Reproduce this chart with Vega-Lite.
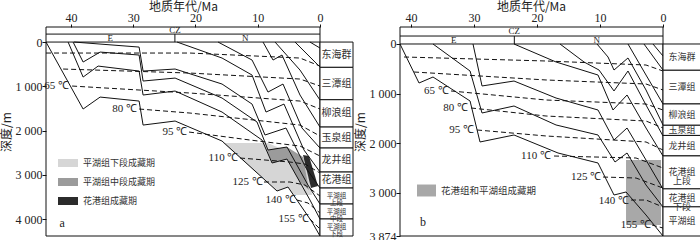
{
  "$schema": "https://vega.github.io/schema/vega-lite/v6.json",
  "background": "white",
  "padding": {"left": 0, "top": 0, "right": 0, "bottom": 0},
  "datasets": {
    "one": [{"k": 1}],
    "curvesA": [
      {"id":"A","o":1,"age":44.0,"depth":0},{"id":"A","o":2,"age":38.04,"depth":1512},{"id":"A","o":3,"age":35.31,"depth":1242},{"id":"A","o":4,"age":29.05,"depth":1332},{"id":"A","o":5,"age":28.41,"depth":1874},{"id":"A","o":6,"age":23.27,"depth":1783},{"id":"A","o":7,"age":15.73,"depth":2235},{"id":"A","o":8,"age":6.9,"depth":3363},{"id":"A","o":9,"age":5.14,"depth":3273},{"id":"A","o":10,"age":1.28,"depth":4063},{"id":"A","o":11,"age":0,"depth":4379},
      {"id":"B","o":1,"age":40.45,"depth":0},{"id":"B","o":2,"age":38.04,"depth":790},{"id":"B","o":3,"age":35.63,"depth":542},{"id":"B","o":4,"age":29.05,"depth":655},{"id":"B","o":5,"age":28.41,"depth":1196},{"id":"B","o":6,"age":23.27,"depth":1106},{"id":"B","o":7,"age":15.73,"depth":1580},{"id":"B","o":8,"age":9.31,"depth":2212},{"id":"B","o":9,"age":7.7,"depth":2731},{"id":"B","o":10,"age":5.3,"depth":2641},{"id":"B","o":11,"age":1.61,"depth":3567},{"id":"B","o":12,"age":0,"depth":3995},
      {"id":"C","o":1,"age":39.65,"depth":0},{"id":"C","o":2,"age":38.04,"depth":451},{"id":"C","o":3,"age":35.31,"depth":226},{"id":"C","o":4,"age":29.05,"depth":293},{"id":"C","o":5,"age":28.41,"depth":880},{"id":"C","o":6,"age":23.27,"depth":813},{"id":"C","o":7,"age":15.73,"depth":1264},{"id":"C","o":8,"age":10.11,"depth":1806},{"id":"C","o":9,"age":8.35,"depth":2438},{"id":"C","o":10,"age":5.3,"depth":2370},{"id":"C","o":11,"age":1.93,"depth":3228},{"id":"C","o":12,"age":0,"depth":3657},
      {"id":"D","o":1,"age":39.49,"depth":0},{"id":"D","o":2,"age":29.05,"depth":113},{"id":"D","o":3,"age":28.41,"depth":655},{"id":"D","o":4,"age":23.27,"depth":609},{"id":"D","o":5,"age":15.73,"depth":948},{"id":"D","o":6,"age":10.91,"depth":1400},{"id":"D","o":7,"age":8.83,"depth":2099},{"id":"D","o":8,"age":5.46,"depth":1941},{"id":"D","o":9,"age":2.25,"depth":2844},{"id":"D","o":10,"age":0,"depth":3296},
      {"id":"E","o":1,"age":22.95,"depth":0},{"id":"E","o":2,"age":15.73,"depth":361},{"id":"E","o":3,"age":10.91,"depth":745},{"id":"E","o":4,"age":8.67,"depth":1580},{"id":"E","o":5,"age":5.78,"depth":1400},{"id":"E","o":6,"age":2.57,"depth":2438},{"id":"E","o":7,"age":0,"depth":2934},
      {"id":"F","o":1,"age":16.37,"depth":0},{"id":"F","o":2,"age":10.91,"depth":406},{"id":"F","o":3,"age":8.35,"depth":1129},{"id":"F","o":4,"age":5.94,"depth":948},{"id":"F","o":5,"age":2.89,"depth":1941},{"id":"F","o":6,"age":0,"depth":2393},
      {"id":"G","o":1,"age":9.15,"depth":0},{"id":"G","o":2,"age":7.54,"depth":406},{"id":"G","o":3,"age":6.1,"depth":293},{"id":"G","o":4,"age":3.21,"depth":1196},{"id":"G","o":5,"age":0,"depth":1919},
      {"id":"H","o":1,"age":7.22,"depth":0},{"id":"H","o":2,"age":3.21,"depth":632},{"id":"H","o":3,"age":0,"depth":1309},
      {"id":"I","o":1,"age":4.01,"depth":0},{"id":"I","o":2,"age":0,"depth":564},
      {"id":"J","o":1,"age":1.61,"depth":0},{"id":"J","o":2,"age":0,"depth":135}
    ],
    "isoA": [
      {"id":"1","o":1,"age":44,"depth":248},{"id":"1","o":2,"age":20.87,"depth":248},{"id":"1","o":3,"age":3.21,"depth":361},{"id":"1","o":4,"age":0,"depth":542},
      {"id":"2","o":1,"age":41.25,"depth":609},{"id":"2","o":2,"age":20.87,"depth":700},{"id":"2","o":3,"age":3.21,"depth":835},{"id":"2","o":4,"age":0,"depth":993},
      {"id":"3","o":1,"age":39.81,"depth":993},{"id":"3","o":2,"age":20.87,"depth":1151},{"id":"3","o":3,"age":3.21,"depth":1332},{"id":"3","o":4,"age":0,"depth":1512},
      {"id":"4","o":1,"age":29.05,"depth":1512},{"id":"4","o":2,"age":20.87,"depth":1603},{"id":"4","o":3,"age":3.21,"depth":1874},{"id":"4","o":4,"age":0,"depth":2122},
      {"id":"5","o":1,"age":21.03,"depth":2032},{"id":"5","o":2,"age":11.24,"depth":2212},{"id":"5","o":3,"age":3.21,"depth":2348},{"id":"5","o":4,"age":0,"depth":2573},
      {"id":"6","o":1,"age":12.84,"depth":2618},{"id":"6","o":2,"age":4.82,"depth":2709},{"id":"6","o":3,"age":2.41,"depth":2754},{"id":"6","o":4,"age":0,"depth":2957},
      {"id":"7","o":1,"age":8.99,"depth":3160},{"id":"7","o":2,"age":4.82,"depth":3160},{"id":"7","o":3,"age":2.41,"depth":3228},{"id":"7","o":4,"age":0,"depth":3476},
      {"id":"8","o":1,"age":3.69,"depth":3567},{"id":"8","o":2,"age":1.93,"depth":3634},{"id":"8","o":3,"age":0,"depth":3860},
      {"id":"9","o":1,"age":1.61,"depth":3995},{"id":"9","o":2,"age":0,"depth":4221}
    ],
    "polyA": [
      {"period":"平湖组下段成藏期","o":1,"age":15.57,"depth":2280},{"period":"平湖组下段成藏期","o":2,"age":8.35,"depth":2280},{"period":"平湖组下段成藏期","o":3,"age":2.09,"depth":2664},{"period":"平湖组下段成藏期","o":4,"age":1.28,"depth":3454},{"period":"平湖组下段成藏期","o":5,"age":4.33,"depth":3454},{"period":"平湖组下段成藏期","o":6,"age":5.14,"depth":3273},{"period":"平湖组下段成藏期","o":7,"age":6.9,"depth":3363},
      {"period":"平湖组中段成藏期","o":1,"age":8.51,"depth":2438},{"period":"平湖组中段成藏期","o":2,"age":5.3,"depth":2370},{"period":"平湖组中段成藏期","o":3,"age":2.73,"depth":2596},{"period":"平湖组中段成藏期","o":4,"age":1.77,"depth":3341},{"period":"平湖组中段成藏期","o":5,"age":3.21,"depth":3160},{"period":"平湖组中段成藏期","o":6,"age":5.3,"depth":2641},{"period":"平湖组中段成藏期","o":7,"age":7.7,"depth":2731},
      {"period":"花港组成藏期","o":1,"age":2.73,"depth":2551},{"period":"花港组成藏期","o":2,"age":1.77,"depth":2573},{"period":"花港组成藏期","o":3,"age":0.32,"depth":3251},{"period":"花港组成藏期","o":4,"age":1.44,"depth":3296}
    ],
    "tempA": [
      {"t":"65 ℃","age":40.3,"depth":993},{"t":"80 ℃","age":29.4,"depth":1512},{"t":"95 ℃","age":21.3,"depth":2032},{"t":"110 ℃","age":13.1,"depth":2618},{"t":"125 ℃","age":9.2,"depth":3160},{"t":"140 ℃","age":3.9,"depth":3567},{"t":"155 ℃","age":1.8,"depth":3995}
    ],
    "bandA": [{"depth":-180},{"depth":0}],
    "divA": [{"age":23.3,"depth":-180,"depth2":0}],
    "headA": [{"t":"CZ","age":23.3,"depth":-262},{"t":"E","age":33.7,"depth":-90},{"t":"N","age":12,"depth":-90}],
    "tagA": [{"t":"a","age":41.4,"depth":4086}],
    "colA": [
      {"f":"东海群","s":0,"top":0,"bottom":571,"mid":285},{"f":"三潭组","s":0,"top":571,"bottom":1302,"mid":936},{"f":"柳浪组","s":0,"top":1302,"bottom":1919,"mid":1610},{"f":"玉泉组","s":0,"top":1919,"bottom":2393,"mid":2156},{"f":"龙井组","s":0,"top":2393,"bottom":2935,"mid":2664},{"f":"花港组","s":0,"top":2935,"bottom":3296,"mid":3115},{"f":"平湖组\n上段","s":1,"top":3296,"bottom":3657,"mid":3476},{"f":"平湖组\n中段","s":1,"top":3657,"bottom":3995,"mid":3826},{"f":"平湖组\n下段","s":1,"top":3995,"bottom":4379,"mid":4187}
    ],
    "curvesB": [
      {"id":"1","o":1,"age":41.75,"depth":0},{"id":"1","o":2,"age":38.73,"depth":787},{"id":"1","o":3,"age":36.51,"depth":666},{"id":"1","o":4,"age":30.63,"depth":1150},{"id":"1","o":5,"age":29.05,"depth":1977},{"id":"1","o":6,"age":23.65,"depth":1836},{"id":"1","o":7,"age":16.67,"depth":2199},{"id":"1","o":8,"age":10.32,"depth":2401},{"id":"1","o":9,"age":7.78,"depth":3047},{"id":"1","o":10,"age":5.87,"depth":2986},{"id":"1","o":11,"age":2.7,"depth":3450},{"id":"1","o":12,"age":0,"depth":3874},
      {"id":"2","o":1,"age":36.51,"depth":0},{"id":"2","o":2,"age":30.63,"depth":545},{"id":"2","o":3,"age":28.73,"depth":1392},{"id":"2","o":4,"age":23.65,"depth":1251},{"id":"2","o":5,"age":16.98,"depth":1634},{"id":"2","o":6,"age":10.32,"depth":1836},{"id":"2","o":7,"age":7.62,"depth":2381},{"id":"2","o":8,"age":5.71,"depth":2199},{"id":"2","o":9,"age":2.7,"depth":2845},{"id":"2","o":10,"age":0,"depth":3289},
      {"id":"3","o":1,"age":30.16,"depth":0},{"id":"3","o":2,"age":28.73,"depth":847},{"id":"3","o":3,"age":23.65,"depth":747},{"id":"3","o":4,"age":16.98,"depth":1090},{"id":"3","o":5,"age":10.32,"depth":1332},{"id":"3","o":6,"age":7.78,"depth":1937},{"id":"3","o":7,"age":5.71,"depth":1695},{"id":"3","o":8,"age":2.7,"depth":2341},{"id":"3","o":9,"age":0,"depth":2926},
      {"id":"4","o":1,"age":23.65,"depth":0},{"id":"4","o":2,"age":16.98,"depth":363},{"id":"4","o":3,"age":10.32,"depth":626},{"id":"4","o":4,"age":7.94,"depth":1332},{"id":"4","o":5,"age":5.71,"depth":1029},{"id":"4","o":6,"age":2.7,"depth":1695},{"id":"4","o":7,"age":0,"depth":2260},
      {"id":"5","o":1,"age":16.35,"depth":0},{"id":"5","o":2,"age":12.54,"depth":363},{"id":"5","o":3,"age":10.16,"depth":525},{"id":"5","o":4,"age":7.78,"depth":948},{"id":"5","o":5,"age":5.56,"depth":545},{"id":"5","o":6,"age":2.7,"depth":1231},{"id":"5","o":7,"age":0,"depth":1856},
      {"id":"6","o":1,"age":10.48,"depth":0},{"id":"6","o":2,"age":8.73,"depth":262},{"id":"6","o":3,"age":7.78,"depth":525},{"id":"6","o":4,"age":5.56,"depth":282},{"id":"6","o":5,"age":2.7,"depth":928},{"id":"6","o":6,"age":0,"depth":1634},
      {"id":"7","o":1,"age":5.56,"depth":0},{"id":"7","o":2,"age":2.7,"depth":626},{"id":"7","o":3,"age":0,"depth":1211},
      {"id":"8","o":1,"age":3.02,"depth":0},{"id":"8","o":2,"age":0,"depth":525},
      {"id":"9","o":1,"age":1.59,"depth":0},{"id":"9","o":2,"age":0,"depth":242}
    ],
    "isoB": [
      {"id":"1","o":1,"age":41.11,"depth":262},{"id":"1","o":2,"age":18.57,"depth":343},{"id":"1","o":3,"age":2.7,"depth":424},{"id":"1","o":4,"age":0,"depth":545},
      {"id":"2","o":1,"age":39.52,"depth":565},{"id":"2","o":2,"age":18.57,"depth":726},{"id":"2","o":3,"age":2.7,"depth":807},{"id":"2","o":4,"age":0,"depth":928},
      {"id":"3","o":1,"age":33.65,"depth":948},{"id":"3","o":2,"age":18.57,"depth":1130},{"id":"3","o":3,"age":2.7,"depth":1211},{"id":"3","o":4,"age":0,"depth":1332},
      {"id":"4","o":1,"age":30.48,"depth":1291},{"id":"4","o":2,"age":18.57,"depth":1453},{"id":"4","o":3,"age":2.7,"depth":1554},{"id":"4","o":4,"age":0,"depth":1695},
      {"id":"5","o":1,"age":29.52,"depth":1735},{"id":"5","o":2,"age":18.57,"depth":1856},{"id":"5","o":3,"age":2.7,"depth":1977},{"id":"5","o":4,"age":0,"depth":2139},
      {"id":"6","o":1,"age":17.3,"depth":2260},{"id":"6","o":2,"age":4.29,"depth":2300},{"id":"6","o":3,"age":0,"depth":2502},
      {"id":"7","o":1,"age":9.52,"depth":2684},{"id":"7","o":2,"age":4.29,"depth":2704},{"id":"7","o":3,"age":0,"depth":2906},
      {"id":"8","o":1,"age":5.08,"depth":3148},{"id":"8","o":2,"age":2.7,"depth":3148},{"id":"8","o":3,"age":0,"depth":3289},
      {"id":"9","o":1,"age":1.75,"depth":3652},{"id":"9","o":2,"age":0,"depth":3713}
    ],
    "rectB": [{"period":"花港组和平湖组成藏期","age":5.87,"age2":0.32,"depth":2341,"depth2":3652}],
    "tempB": [
      {"t":"65 ℃","age":34.0,"depth":948},{"t":"80 ℃","age":30.95,"depth":1291},{"t":"95 ℃","age":30.0,"depth":1735},{"t":"110 ℃","age":17.8,"depth":2260},{"t":"125 ℃","age":9.8,"depth":2684},{"t":"140 ℃","age":5.4,"depth":3158},{"t":"155 ℃","age":1.9,"depth":3652}
    ],
    "bandB": [{"depth":-161},{"depth":0}],
    "divB": [{"age":23.6,"depth":-161,"depth2":0}],
    "headB": [{"t":"CZ","age":23.6,"depth":-255},{"t":"E","age":33.2,"depth":-80},{"t":"N","age":10.5,"depth":-80}],
    "tagB": [{"t":"b","age":38.1,"depth":3592}],
    "colB": [
      {"f":"东海群","top":0,"bottom":530,"mid":265},{"f":"三潭组","top":530,"bottom":1210,"mid":870},{"f":"柳浪组","top":1210,"bottom":1640,"mid":1425},{"f":"玉泉组","top":1640,"bottom":1845,"mid":1742},{"f":"龙井组","top":1845,"bottom":2258,"mid":2051},{"f":"花港组\n上段","top":2258,"bottom":2923,"mid":2590},{"f":"花港组\n下段","top":2923,"bottom":3286,"mid":3104},{"f":"平湖组","top":3286,"bottom":3874,"mid":3580}
    ]
  },
  "hconcat": [
    {
      "width": 307, "height": 209,
      "view": {"stroke": null},
      "layer": [
        {
          "data": {"name": "polyA"},
          "mark": {"type": "line", "filled": true, "strokeWidth": 0},
          "encoding": {
            "x": {"field": "age", "type": "quantitative", "scale": {"domain": [44, -5.3], "nice": false, "zero": false},
                  "axis": {"orient": "top", "values": [40,35,30,25,20,15,10,5,0], "title": "地质年代/Ma", "format": "d", "titleX": 137, "titleY": -14, "titleBaseline": "bottom", "tickSize": 3}},
            "y": {"field": "depth", "type": "quantitative", "scale": {"domain": [-340, 4379], "nice": false, "zero": false, "reverse": true},
                  "axis": {"values": [0,1000,2000,3000,4000], "labelExpr": "replace(format(datum.value, ','), ',', ' ')", "title": "深度/m", "titlePadding": 2}},
            "order": {"field": "o", "type": "quantitative"},
            "color": {"field": "period", "type": "nominal",
                      "scale": {"domain": ["平湖组下段成藏期","平湖组中段成藏期","花港组成藏期"], "range": ["#d6d6d6","#9b9b9b","#2b2b2b"]},
                      "legend": {"orient": "none", "legendX": 12, "legendY": 126, "title": null, "symbolType": "M-1,-0.4H1V0.4H-1Z", "symbolSize": 400, "symbolStrokeWidth": 0, "labelFont": "Noto Sans CJK SC", "labelFontSize": 9, "labelColor": "#333", "rowPadding": 4, "labelOffset": 5}}
          }
        },
        {
          "data": {"name": "one"},
          "mark": {"type": "rect", "fill": null, "stroke": "#111", "strokeWidth": 1},
          "encoding": {
            "x": {"datum": 44, "type": "quantitative", "scale": {"domain": [44, -5.3], "nice": false, "zero": false}},
            "x2": {"datum": 0},
            "y": {"datum": -340, "type": "quantitative", "scale": {"domain": [-340, 4379], "nice": false, "zero": false, "reverse": true}},
            "y2": {"datum": 4379}
          }
        },
        {
          "data": {"name": "curvesA"},
          "mark": {"type": "line", "color": "#111", "strokeWidth": 1},
          "encoding": {
            "x": {"field": "age", "type": "quantitative", "scale": {"domain": [44, -5.3], "nice": false, "zero": false}},
            "y": {"field": "depth", "type": "quantitative", "scale": {"domain": [-340, 4379], "nice": false, "zero": false, "reverse": true}},
            "detail": {"field": "id"},
            "order": {"field": "o", "type": "quantitative"}
          }
        },
        {
          "data": {"name": "isoA"},
          "mark": {"type": "line", "color": "#111", "strokeWidth": 1, "strokeDash": [5, 3]},
          "encoding": {
            "x": {"field": "age", "type": "quantitative", "scale": {"domain": [44, -5.3], "nice": false, "zero": false}},
            "y": {"field": "depth", "type": "quantitative", "scale": {"domain": [-340, 4379], "nice": false, "zero": false, "reverse": true}},
            "detail": {"field": "id"},
            "order": {"field": "o", "type": "quantitative"}
          }
        },
        {
          "data": {"name": "bandA"},
          "mark": {"type": "rule", "color": "#111", "strokeWidth": 1},
          "encoding": {
            "x": {"datum": 44, "type": "quantitative", "scale": {"domain": [44, -5.3], "nice": false, "zero": false}},
            "x2": {"datum": 0},
            "y": {"field": "depth", "type": "quantitative", "scale": {"domain": [-340, 4379], "nice": false, "zero": false, "reverse": true}}
          }
        },
        {
          "data": {"name": "divA"},
          "mark": {"type": "rule", "color": "#111", "strokeWidth": 1},
          "encoding": {
            "x": {"field": "age", "type": "quantitative", "scale": {"domain": [44, -5.3], "nice": false, "zero": false}},
            "y": {"field": "depth", "type": "quantitative", "scale": {"domain": [-340, 4379], "nice": false, "zero": false, "reverse": true}},
            "y2": {"field": "depth2"}
          }
        },
        {
          "data": {"name": "headA"},
          "mark": {"type": "text", "font": "Liberation Serif", "fontSize": 9, "color": "#222", "baseline": "middle"},
          "encoding": {
            "x": {"field": "age", "type": "quantitative", "scale": {"domain": [44, -5.3], "nice": false, "zero": false}},
            "y": {"field": "depth", "type": "quantitative", "scale": {"domain": [-340, 4379], "nice": false, "zero": false, "reverse": true}},
            "text": {"field": "t"}
          }
        },
        {
          "data": {"name": "tempA"},
          "mark": {"type": "text", "font": "Liberation Serif", "fontSize": 11, "color": "#222", "align": "right", "baseline": "middle"},
          "encoding": {
            "x": {"field": "age", "type": "quantitative", "scale": {"domain": [44, -5.3], "nice": false, "zero": false}},
            "y": {"field": "depth", "type": "quantitative", "scale": {"domain": [-340, 4379], "nice": false, "zero": false, "reverse": true}},
            "text": {"field": "t"}
          }
        },
        {
          "data": {"name": "tagA"},
          "mark": {"type": "text", "font": "Liberation Serif", "fontSize": 12, "color": "#222", "baseline": "middle"},
          "encoding": {
            "x": {"field": "age", "type": "quantitative", "scale": {"domain": [44, -5.3], "nice": false, "zero": false}},
            "y": {"field": "depth", "type": "quantitative", "scale": {"domain": [-340, 4379], "nice": false, "zero": false, "reverse": true}},
            "text": {"field": "t"}
          }
        },
        {
          "data": {"name": "colA"},
          "mark": {"type": "rect", "fill": "white", "stroke": "#111", "strokeWidth": 1},
          "encoding": {
            "x": {"datum": 0, "type": "quantitative", "scale": {"domain": [44, -5.3], "nice": false, "zero": false}},
            "x2": {"datum": -5.3},
            "y": {"field": "top", "type": "quantitative", "scale": {"domain": [-340, 4379], "nice": false, "zero": false, "reverse": true}},
            "y2": {"field": "bottom"}
          }
        },
        {
          "data": {"name": "colA"},
          "transform": [{"filter": "datum.s == 0"}],
          "mark": {"type": "text", "font": "Noto Sans CJK SC", "fontSize": 10, "color": "#333", "lineBreak": "\n", "baseline": "middle"},
          "encoding": {
            "x": {"datum": -2.65, "type": "quantitative", "scale": {"domain": [44, -5.3], "nice": false, "zero": false}},
            "y": {"field": "mid", "type": "quantitative", "scale": {"domain": [-340, 4379], "nice": false, "zero": false, "reverse": true}},
            "text": {"field": "f"}
          }
        },
        {
          "data": {"name": "colA"},
          "transform": [{"filter": "datum.s == 1"}],
          "mark": {"type": "text", "font": "Noto Sans CJK SC", "fontSize": 6.5, "color": "#333", "lineBreak": "\n", "baseline": "middle", "lineHeight": 7},
          "encoding": {
            "x": {"datum": -2.65, "type": "quantitative", "scale": {"domain": [44, -5.3], "nice": false, "zero": false}},
            "y": {"field": "mid", "type": "quantitative", "scale": {"domain": [-340, 4379], "nice": false, "zero": false, "reverse": true}},
            "text": {"field": "f"}
          }
        }
      ]
    },
    {
      "width": 301, "height": 209,
      "view": {"stroke": null},
      "layer": [
        {
          "data": {"name": "rectB"},
          "mark": {"type": "rect", "strokeWidth": 0},
          "encoding": {
            "x": {"field": "age", "type": "quantitative", "scale": {"domain": [41.75, -6.03], "nice": false, "zero": false},
                  "axis": {"orient": "top", "values": [40,35,30,25,20,15,10,5,0], "title": "地质年代/Ma", "format": "d", "titleX": 131, "titleY": -14, "titleBaseline": "bottom", "tickSize": 3}},
            "x2": {"field": "age2"},
            "y": {"field": "depth", "type": "quantitative", "scale": {"domain": [-343, 3874], "nice": false, "zero": false, "reverse": true},
                  "axis": {"values": [0,1000,2000,3000,3874], "labelExpr": "replace(format(datum.value, ','), ',', ' ')", "title": "深度/m", "titlePadding": 2}},
            "y2": {"field": "depth2"},
            "color": {"field": "period", "type": "nominal",
                      "scale": {"domain": ["花港组和平湖组成藏期"], "range": ["#a8a8a8"]},
                      "legend": {"orient": "none", "legendX": 17, "legendY": 154, "title": null, "symbolType": "M-1,-0.63H1V0.63H-1Z", "symbolSize": 361, "symbolStrokeWidth": 0, "labelFont": "Noto Sans CJK SC", "labelFontSize": 9.5, "labelColor": "#333", "labelOffset": 5}}
          }
        },
        {
          "data": {"name": "one"},
          "mark": {"type": "rect", "fill": null, "stroke": "#111", "strokeWidth": 1},
          "encoding": {
            "x": {"datum": 41.75, "type": "quantitative", "scale": {"domain": [41.75, -6.03], "nice": false, "zero": false}},
            "x2": {"datum": 0},
            "y": {"datum": -343, "type": "quantitative", "scale": {"domain": [-343, 3874], "nice": false, "zero": false, "reverse": true}},
            "y2": {"datum": 3874}
          }
        },
        {
          "data": {"name": "curvesB"},
          "mark": {"type": "line", "color": "#111", "strokeWidth": 1},
          "encoding": {
            "x": {"field": "age", "type": "quantitative", "scale": {"domain": [41.75, -6.03], "nice": false, "zero": false}},
            "y": {"field": "depth", "type": "quantitative", "scale": {"domain": [-343, 3874], "nice": false, "zero": false, "reverse": true}},
            "detail": {"field": "id"},
            "order": {"field": "o", "type": "quantitative"}
          }
        },
        {
          "data": {"name": "isoB"},
          "mark": {"type": "line", "color": "#111", "strokeWidth": 1, "strokeDash": [5, 3]},
          "encoding": {
            "x": {"field": "age", "type": "quantitative", "scale": {"domain": [41.75, -6.03], "nice": false, "zero": false}},
            "y": {"field": "depth", "type": "quantitative", "scale": {"domain": [-343, 3874], "nice": false, "zero": false, "reverse": true}},
            "detail": {"field": "id"},
            "order": {"field": "o", "type": "quantitative"}
          }
        },
        {
          "data": {"name": "bandB"},
          "mark": {"type": "rule", "color": "#111", "strokeWidth": 1},
          "encoding": {
            "x": {"datum": 41.75, "type": "quantitative", "scale": {"domain": [41.75, -6.03], "nice": false, "zero": false}},
            "x2": {"datum": 0},
            "y": {"field": "depth", "type": "quantitative", "scale": {"domain": [-343, 3874], "nice": false, "zero": false, "reverse": true}}
          }
        },
        {
          "data": {"name": "divB"},
          "mark": {"type": "rule", "color": "#111", "strokeWidth": 1},
          "encoding": {
            "x": {"field": "age", "type": "quantitative", "scale": {"domain": [41.75, -6.03], "nice": false, "zero": false}},
            "y": {"field": "depth", "type": "quantitative", "scale": {"domain": [-343, 3874], "nice": false, "zero": false, "reverse": true}},
            "y2": {"field": "depth2"}
          }
        },
        {
          "data": {"name": "headB"},
          "mark": {"type": "text", "font": "Liberation Serif", "fontSize": 9, "color": "#222", "baseline": "middle"},
          "encoding": {
            "x": {"field": "age", "type": "quantitative", "scale": {"domain": [41.75, -6.03], "nice": false, "zero": false}},
            "y": {"field": "depth", "type": "quantitative", "scale": {"domain": [-343, 3874], "nice": false, "zero": false, "reverse": true}},
            "text": {"field": "t"}
          }
        },
        {
          "data": {"name": "tempB"},
          "mark": {"type": "text", "font": "Liberation Serif", "fontSize": 11, "color": "#222", "align": "right", "baseline": "middle"},
          "encoding": {
            "x": {"field": "age", "type": "quantitative", "scale": {"domain": [41.75, -6.03], "nice": false, "zero": false}},
            "y": {"field": "depth", "type": "quantitative", "scale": {"domain": [-343, 3874], "nice": false, "zero": false, "reverse": true}},
            "text": {"field": "t"}
          }
        },
        {
          "data": {"name": "tagB"},
          "mark": {"type": "text", "font": "Liberation Serif", "fontSize": 12, "color": "#222", "baseline": "middle"},
          "encoding": {
            "x": {"field": "age", "type": "quantitative", "scale": {"domain": [41.75, -6.03], "nice": false, "zero": false}},
            "y": {"field": "depth", "type": "quantitative", "scale": {"domain": [-343, 3874], "nice": false, "zero": false, "reverse": true}},
            "text": {"field": "t"}
          }
        },
        {
          "data": {"name": "colB"},
          "mark": {"type": "rect", "fill": "white", "stroke": "#111", "strokeWidth": 1},
          "encoding": {
            "x": {"datum": 0, "type": "quantitative", "scale": {"domain": [41.75, -6.03], "nice": false, "zero": false}},
            "x2": {"datum": -6.03},
            "y": {"field": "top", "type": "quantitative", "scale": {"domain": [-343, 3874], "nice": false, "zero": false, "reverse": true}},
            "y2": {"field": "bottom"}
          }
        },
        {
          "data": {"name": "colB"},
          "mark": {"type": "text", "font": "Noto Sans CJK SC", "fontSize": 9, "color": "#333", "lineBreak": "\n", "baseline": "middle", "lineHeight": 9},
          "encoding": {
            "x": {"datum": -3.0, "type": "quantitative", "scale": {"domain": [41.75, -6.03], "nice": false, "zero": false}},
            "y": {"field": "mid", "type": "quantitative", "scale": {"domain": [-343, 3874], "nice": false, "zero": false, "reverse": true}},
            "text": {"field": "f"}
          }
        }
      ]
    }
  ],
  "spacing": 0,
  "resolve": {"scale": {"x": "independent", "y": "independent", "color": "independent"}, "legend": {"color": "independent"}},
  "config": {
    "axis": {
      "domain": false, "grid": false,
      "labelFont": "Liberation Serif", "labelFontSize": 12, "labelColor": "#222",
      "tickColor": "#111", "tickSize": 4, "labelPadding": 0,
      "titleFont": "Noto Sans CJK SC", "titleFontSize": 12, "titleFontWeight": "normal", "titleColor": "#222", "titlePadding": 0
    }
  }
}
